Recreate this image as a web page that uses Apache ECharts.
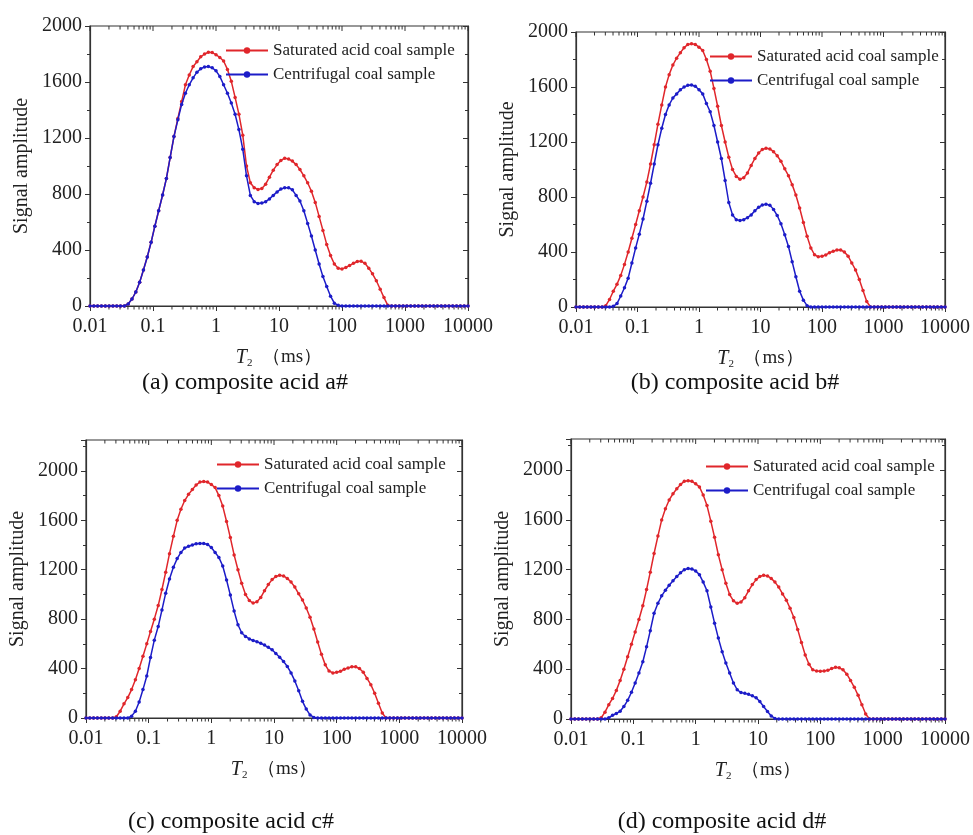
<!DOCTYPE html>
<html>
<head>
<meta charset="utf-8">
<title>T2 spectra</title>
<script src="https://cdn.jsdelivr.net/npm/echarts@6/dist/echarts.min.js"></script>
<style>
  html, body { margin: 0; padding: 0; background: #fff; }
  #chart { width: 973px; height: 835px; }
</style>
</head>
<body>
<div id="chart"></div>
<script>
// T2 relaxation time grid (ms), log spaced 0.01 - 10000
const T2 = [
  0.01, 0.0115, 0.0132, 0.0152, 0.0175, 0.0201, 0.0231, 0.0266, 0.0305, 0.0351,
  0.0404, 0.0464, 0.0534, 0.0614, 0.0705, 0.0811, 0.0933, 0.107, 0.123, 0.142,
  0.163, 0.187, 0.215, 0.248, 0.285, 0.327, 0.376, 0.433, 0.498, 0.572,
  0.658, 0.756, 0.870, 1.00, 1.15, 1.32, 1.52, 1.75, 2.01, 2.31,
  2.66, 3.05, 3.51, 4.04, 4.64, 5.34, 6.14, 7.05, 8.11, 9.33,
  10.7, 12.3, 14.2, 16.3, 18.7, 21.5, 24.8, 28.5, 32.7, 37.6,
  43.3, 49.8, 57.2, 65.8, 75.6, 87.0, 100, 115, 132, 152,
  175, 201, 231, 266, 305, 351, 404, 464, 534, 614,
  705, 811, 933, 1070, 1230, 1420, 1630, 1870, 2150, 2480,
  2850, 3270, 3760, 4330, 4980, 5720, 6580, 7560, 8700, 10000
];

// (a) composite acid a#
const satA = [
  0, 0, 0, 0, 0, 0, 0, 0, 0, 0,
  15, 50, 100, 170, 257, 350, 455, 570, 680, 793,
  910, 1060, 1210, 1340, 1460, 1580, 1650, 1710, 1745, 1780,
  1800, 1812, 1810, 1795, 1775, 1750, 1690, 1605, 1490, 1370,
  1220, 1000, 880, 845, 833, 840, 870, 920, 970, 1010,
  1040, 1055, 1050, 1035, 1010, 975, 930, 880, 820, 740,
  640, 540, 440, 360, 300, 270, 265, 275, 290, 305,
  318, 320, 305, 270, 230, 180, 120, 60, 5, 0,
  0, 0, 0, 0, 0, 0, 0, 0, 0, 0,
  0, 0, 0, 0, 0, 0, 0, 0, 0, 0
];
const cenA = [
  0, 0, 0, 0, 0, 0, 0, 0, 0, 0,
  15, 50, 100, 170, 257, 350, 455, 570, 680, 793,
  910, 1060, 1210, 1330, 1440, 1520, 1580, 1630, 1670, 1695,
  1708, 1710, 1702, 1680, 1640, 1580, 1520, 1450, 1370, 1260,
  1120, 930, 790, 745, 733, 735, 745, 765, 790, 815,
  835, 845, 845, 830, 790, 750, 680, 590, 500, 400,
  300, 210, 140, 70, 20, 5, 0, 0, 0, 0,
  0, 0, 0, 0, 0, 0, 0, 0, 0, 0,
  0, 0, 0, 0, 0, 0, 0, 0, 0, 0,
  0, 0, 0, 0, 0, 0, 0, 0, 0, 0
];

// (b) composite acid b#
const satB = [
  0, 0, 0, 0, 0, 0, 0, 0, 10, 55,
  115, 165, 230, 310, 400, 500, 600, 700, 800, 910,
  1040, 1180, 1330, 1470, 1600, 1690, 1760, 1810, 1850, 1885,
  1910, 1915, 1910, 1890, 1865, 1800, 1715, 1590, 1460, 1320,
  1200, 1090, 1000, 950, 930, 940, 975, 1030, 1080, 1120,
  1145, 1155, 1150, 1130, 1100, 1060, 1005, 955, 890, 815,
  720, 615, 515, 430, 380, 365, 370, 378, 395, 405,
  415, 415, 400, 370, 320, 270, 200, 120, 40, 0,
  0, 0, 0, 0, 0, 0, 0, 0, 0, 0,
  0, 0, 0, 0, 0, 0, 0, 0, 0, 0
];
const cenB = [
  0, 0, 0, 0, 0, 0, 0, 0, 0, 0,
  5, 25, 80, 140, 210, 320, 430, 530, 640, 770,
  900, 1040, 1180, 1300, 1400, 1470, 1520, 1550, 1580, 1600,
  1612, 1615, 1605, 1580, 1550, 1480, 1420, 1320, 1200, 1080,
  920, 760, 670, 635, 630, 635, 650, 670, 700, 725,
  742, 748, 740, 710, 665, 605, 525, 440, 330, 220,
  115, 50, 10, 0, 0, 0, 0, 0, 0, 0,
  0, 0, 0, 0, 0, 0, 0, 0, 0, 0,
  0, 0, 0, 0, 0, 0, 0, 0, 0, 0,
  0, 0, 0, 0, 0, 0, 0, 0, 0, 0
];

// (c) composite acid c#
const satC = [
  0, 0, 0, 0, 0, 0, 0, 0, 10, 55,
  115, 165, 230, 310, 400, 500, 600, 700, 800, 910,
  1040, 1180, 1330, 1470, 1600, 1690, 1760, 1810, 1850, 1885,
  1910, 1915, 1910, 1890, 1865, 1800, 1715, 1590, 1460, 1320,
  1200, 1090, 1000, 950, 930, 940, 975, 1030, 1080, 1120,
  1145, 1155, 1150, 1130, 1100, 1060, 1005, 955, 890, 815,
  720, 615, 515, 430, 380, 365, 370, 378, 395, 405,
  415, 415, 400, 370, 320, 270, 200, 120, 40, 0,
  0, 0, 0, 0, 0, 0, 0, 0, 0, 0,
  0, 0, 0, 0, 0, 0, 0, 0, 0, 0
];
const cenC = [
  0, 0, 0, 0, 0, 0, 0, 0, 0, 0,
  0, 0, 15, 55, 130, 230, 340, 490, 630, 740,
  875, 1010, 1125, 1220, 1290, 1340, 1375, 1390, 1400, 1410,
  1413, 1413, 1405, 1380, 1340, 1300, 1230, 1117, 995, 865,
  755, 690, 660, 640, 627, 618, 605, 590, 572, 552,
  522, 492, 458, 417, 365, 300, 220, 135, 72, 25,
  5, 0, 0, 0, 0, 0, 0, 0, 0, 0,
  0, 0, 0, 0, 0, 0, 0, 0, 0, 0,
  0, 0, 0, 0, 0, 0, 0, 0, 0, 0,
  0, 0, 0, 0, 0, 0, 0, 0, 0, 0
];

// (d) composite acid d#
const satD = [
  0, 0, 0, 0, 0, 0, 0, 0, 10, 55,
  115, 165, 230, 310, 400, 500, 600, 700, 800, 910,
  1040, 1180, 1330, 1470, 1600, 1690, 1760, 1810, 1850, 1885,
  1910, 1915, 1910, 1890, 1865, 1800, 1715, 1590, 1460, 1320,
  1200, 1090, 1000, 950, 930, 940, 975, 1030, 1080, 1120,
  1145, 1155, 1150, 1130, 1100, 1060, 1005, 955, 890, 815,
  720, 615, 515, 440, 395, 385, 383, 385, 392, 405,
  415, 412, 395, 360, 310, 255, 190, 115, 40, 0,
  0, 0, 0, 0, 0, 0, 0, 0, 0, 0,
  0, 0, 0, 0, 0, 0, 0, 0, 0, 0
];
const cenD = [
  0, 0, 0, 0, 0, 0, 0, 0, 0, 0,
  10, 30, 45, 62, 100, 150, 215, 290, 370, 460,
  580, 710, 850, 930, 990, 1035, 1075, 1110, 1145, 1175,
  1200, 1210, 1205, 1190, 1160, 1100, 1030, 900, 770, 650,
  540, 450, 370, 290, 235, 212, 206, 198, 186, 170,
  140, 100, 60, 25, 5, 0, 0, 0, 0, 0,
  0, 0, 0, 0, 0, 0, 0, 0, 0, 0,
  0, 0, 0, 0, 0, 0, 0, 0, 0, 0,
  0, 0, 0, 0, 0, 0, 0, 0, 0, 0,
  0, 0, 0, 0, 0, 0, 0, 0, 0, 0
];

// log-axis tick positions (major decades and minor 2..9 steps)
const majorTicks = [0.01, 0.1, 1, 10, 100, 1000, 10000];
const minorTicks = [
  0.02, 0.03, 0.04, 0.05, 0.06, 0.07, 0.08, 0.09,
  0.2, 0.3, 0.4, 0.5, 0.6, 0.7, 0.8, 0.9,
  2, 3, 4, 5, 6, 7, 8, 9,
  20, 30, 40, 50, 60, 70, 80, 90,
  200, 300, 400, 500, 600, 700, 800, 900,
  2000, 3000, 4000, 5000, 6000, 7000, 8000, 9000
];

const SAT = 'Saturated acid coal sample';
const CEN = 'Centrifugal coal sample';
const RED = '#e0262b';
const BLUE = '#1c1cc8';
const SERIF = '"Liberation Serif", "Times New Roman", serif';
const AXIS_COLOR = '#333';

const panels = [
  { sat: satA, cen: cenA, yMax: 2000, grid: { left: 90, top: 26, width: 378, height: 280 }, legend: { left: 220, top: 37 } },
  { sat: satB, cen: cenB, yMax: 2000, grid: { left: 576, top: 32, width: 372, height: 275 }, legend: { left: 704, top: 43 } },
  { sat: satC, cen: cenC, yMax: 2250, grid: { left: 86, top: 440, width: 376, height: 278 }, legend: { left: 211, top: 451 } },
  { sat: satD, cen: cenD, yMax: 2250, grid: { left: 571, top: 439, width: 376, height: 280 }, legend: { left: 700, top: 453 } }
];
const captions = [
  { text: '(a) composite acid a#', x: 245, y: 383 },
  { text: '(b) composite acid b#', x: 735, y: 383 },
  { text: '(c) composite acid c#', x: 231, y: 822 },
  { text: '(d) composite acid d#', x: 722, y: 822 }
];

const grids = [], xAxes = [], yAxes = [], series = [], legends = [];

// draws the log ticks the axis leaves out: minor ticks below the bottom
// axis, and major + minor ticks hanging inward from the top frame
function tickRenderer(params, api) {
  const rect = params.coordSys;
  const major = api.value(2) === 1;
  const x = api.coord([api.value(0), 0])[0];
  const bottom = rect.y + rect.height;
  const style = { stroke: AXIS_COLOR, lineWidth: 1 };
  const shapes = [];
  if (!major) {
    shapes.push({ type: 'line', shape: { x1: x, y1: bottom, x2: x, y2: bottom + 3.5 }, style });
  }
  shapes.push({ type: 'line', shape: { x1: x, y1: rect.y, x2: x, y2: rect.y + (major ? 5 : 3.5) }, style });
  return { type: 'group', children: shapes };
}
const tickData = majorTicks.map(v => [v, 0, 1]).concat(minorTicks.map(v => [v, 0, 0]));

panels.forEach((p, g) => {
  grids.push(Object.assign({
    containLabel: false, show: true, borderColor: AXIS_COLOR, borderWidth: 1.2,
    backgroundColor: 'transparent'
  }, p.grid));

  xAxes.push({
    type: 'log', logBase: 10, gridIndex: g, min: 0.01, max: 10000, position: 'bottom',
    name: '{i|T}{s|2}{n|  （ms）}',
    nameLocation: 'middle', nameGap: 40,
    nameTextStyle: {
      rich: {
        i: { fontFamily: SERIF, fontStyle: 'italic', fontSize: 20, color: '#222' },
        s: { fontFamily: SERIF, fontSize: 11, color: '#222', verticalAlign: 'bottom', padding: [12, 0, 0, 0] },
        n: { fontFamily: SERIF, fontSize: 19, color: '#222' }
      }
    },
    axisLine: { lineStyle: { color: AXIS_COLOR, width: 1.2 } },
    axisTick: { inside: false, length: 5, lineStyle: { color: AXIS_COLOR } },
    axisLabel: {
      fontFamily: SERIF, fontSize: 20, color: '#222', margin: 11,
      formatter: v => String(+(+v).toPrecision(6))
    },
    splitLine: { show: false }
  });

  yAxes.push({
    type: 'value', gridIndex: g, min: 0, max: p.yMax, interval: 400, position: 'left',
    name: 'Signal amplitude', nameLocation: 'middle', nameGap: 58, nameRotate: 90,
    nameTextStyle: { fontFamily: SERIF, fontSize: 20, color: '#222' },
    axisLine: { show: true, lineStyle: { color: AXIS_COLOR, width: 1.2 } },
    axisTick: { show: true, inside: false, length: 5, lineStyle: { color: AXIS_COLOR } },
    minorTick: { show: true, splitNumber: 2, length: 3, lineStyle: { color: AXIS_COLOR } },
    axisLabel: {
      fontFamily: SERIF, fontSize: 20, color: '#222', margin: 8,
      formatter: v => (v % 400 === 0 ? String(v) : '')
    },
    splitLine: { show: false }
  });
  // right mirror y axis
  yAxes.push({
    type: 'value', gridIndex: g, min: 0, max: p.yMax, interval: 400, position: 'right',
    axisLine: { show: true, lineStyle: { color: AXIS_COLOR, width: 1.2 } },
    axisTick: { show: true, inside: true, length: 5, lineStyle: { color: AXIS_COLOR } },
    minorTick: { show: true, splitNumber: 2, length: 3, lineStyle: { color: AXIS_COLOR } },
    axisLabel: { show: false },
    splitLine: { show: false }
  });

  const yi = g * 2;
  series.push({
    name: 'ticks' + g, type: 'custom', xAxisIndex: g, yAxisIndex: yi,
    data: tickData, encode: { x: 0, y: 1 }, renderItem: tickRenderer,
    clip: false, silent: true, animation: false, z: 1
  });
  series.push({
    name: SAT, type: 'line', xAxisIndex: g, yAxisIndex: yi,
    data: T2.map((t, k) => [t, p.sat[k]]),
    symbol: 'circle', symbolSize: 3.5, showSymbol: true,
    lineStyle: { color: RED, width: 1.5 }, itemStyle: { color: RED },
    animation: false, z: 3
  });
  series.push({
    name: CEN, type: 'line', xAxisIndex: g, yAxisIndex: yi,
    data: T2.map((t, k) => [t, p.cen[k]]),
    symbol: 'circle', symbolSize: 3.5, showSymbol: true,
    lineStyle: { color: BLUE, width: 1.5 }, itemStyle: { color: BLUE },
    animation: false, z: 4
  });

  legends.push({
    left: p.legend.left, top: p.legend.top, orient: 'vertical',
    itemWidth: 42, itemHeight: 8, itemGap: 7,
    data: [SAT, CEN],
    textStyle: { fontFamily: SERIF, fontSize: 17, color: '#222' },
    selectedMode: false
  });
});

const chart = echarts.init(document.getElementById('chart'), null, { renderer: 'canvas' });
chart.setOption({
  backgroundColor: '#fff',
  animation: false,
  grid: grids,
  xAxis: xAxes,
  yAxis: yAxes,
  legend: legends,
  series: series,
  graphic: captions.map(c => ({
    type: 'text', x: c.x, y: c.y,
    style: {
      text: c.text, fontFamily: SERIF, fontSize: 24, fill: '#111',
      textAlign: 'center', textVerticalAlign: 'middle'
    }
  }))
});
</script>
</body>
</html>
